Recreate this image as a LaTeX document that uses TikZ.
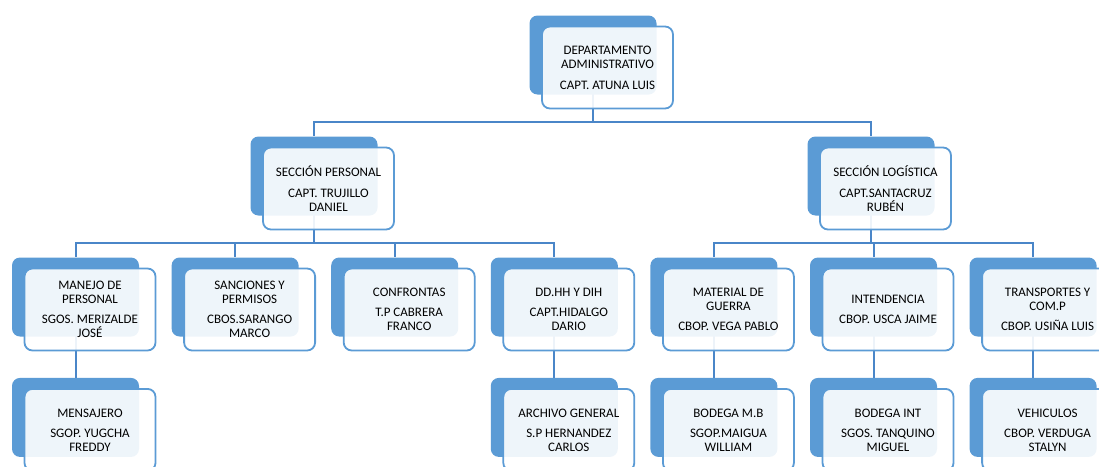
\documentclass[tikz,border=0pt]{standalone}
\usepackage{fontspec}
\setmainfont{Carlito}
\usepackage{tikz}
\usetikzlibrary{positioning, backgrounds}
\definecolor{accent}{HTML}{5B9BD5}
\definecolor{lineblue}{HTML}{4A86C8}
\tikzset{org-line/.style={line width=2pt, color=lineblue}}
\tikzset{back-box/.style={fill=accent, rounded corners=8pt, inner sep=0, minimum width=127pt, minimum height=79pt}}
\tikzset{front-box/.style={draw=accent, line width=1.8pt, fill=white, fill opacity=0.9, text opacity=1, rounded corners=8pt, inner sep=0, minimum width=131pt, minimum height=82pt, align=center, font=\fontsize{13}{14}\selectfont}}

\begin{document}
\begin{tikzpicture}[x=1pt, y=-1pt]
            \useasboundingbox (0,0) rectangle (1099,466);
            \clip (0,0) rectangle (1099,466);

            \node[back-box] (dep-b) at (593,55) {};
            \node[front-box] (dep) at ([xshift=14.5pt, yshift=-12.5pt]dep-b.center) {DEPARTAMENTO\\ADMINISTRATIVO\\[7pt]CAPT. ATUNA LUIS};

            \node[back-box] (personal-b) at (314,176) {};
            \node[front-box] (personal) at ([xshift=14.5pt, yshift=-12.5pt]personal-b.center) {SECCIÓN PERSONAL\\[7pt]CAPT. TRUJILLO\\DANIEL};
            \node[back-box] (logistica-b) at (871,176) {};
            \node[front-box] (logistica) at ([xshift=14.5pt, yshift=-12.5pt]logistica-b.center) {SECCIÓN LOGÍSTICA\\[7pt]CAPT.SANTACRUZ\\RUBÉN};

            \node[back-box] (manejo-b) at (75.5,297) {};
            \node[back-box, right=32.2pt of manejo-b] (sanciones-b) {};
            \node[back-box, right=32.2pt of sanciones-b] (confrontas-b) {};
            \node[back-box, right=32.2pt of confrontas-b] (ddhh-b) {};
            \node[back-box, right=32.2pt of ddhh-b] (material-b) {};
            \node[back-box, right=32.2pt of material-b] (intendencia-b) {};
            \node[back-box, right=32.2pt of intendencia-b] (transportes-b) {};

            \node[front-box] (manejo) at ([xshift=14.5pt, yshift=-12.5pt]manejo-b.center) {MANEJO DE\\PERSONAL\\[6pt]SGOS. MERIZALDE\\JOSÉ};
            \node[front-box] (sanciones) at ([xshift=14.5pt, yshift=-12.5pt]sanciones-b.center) {SANCIONES Y\\PERMISOS\\[6pt]CBOS.SARANGO\\MARCO};
            \node[front-box] (confrontas) at ([xshift=14.5pt, yshift=-12.5pt]confrontas-b.center) {CONFRONTAS\\[6pt]T.P CABRERA\\FRANCO};
            \node[front-box] (ddhh) at ([xshift=14.5pt, yshift=-12.5pt]ddhh-b.center) {DD.HH Y DIH\\[6pt]CAPT.HIDALGO\\DARIO};
            \node[front-box] (material) at ([xshift=14.5pt, yshift=-12.5pt]material-b.center) {MATERIAL DE\\GUERRA\\[6pt]CBOP. VEGA PABLO};
            \node[front-box] (intendencia) at ([xshift=14.5pt, yshift=-12.5pt]intendencia-b.center) {INTENDENCIA\\[6pt]CBOP. USCA JAIME};
            \node[front-box] (transportes) at ([xshift=14.5pt, yshift=-12.5pt]transportes-b.center) {TRANSPORTES Y\\COM.P\\[6pt]CBOP. USIÑA LUIS};

            \node[back-box, below=41pt of manejo-b] (mensajero-b) {};
            \node[back-box, below=41pt of ddhh-b] (archivo-b) {};
            \node[back-box, below=41pt of material-b] (bodegamb-b) {};
            \node[back-box, below=41pt of intendencia-b] (bodegaint-b) {};
            \node[back-box, below=41pt of transportes-b] (vehiculos-b) {};

            \node[front-box] (mensajero) at ([xshift=14.5pt, yshift=-12.5pt]mensajero-b.center) {MENSAJERO\\[6pt]SGOP. YUGCHA\\FREDDY};
            \node[front-box] (archivo) at ([xshift=14.5pt, yshift=-12.5pt]archivo-b.center) {ARCHIVO GENERAL\\[6pt]S.P HERNANDEZ\\CARLOS};
            \node[front-box] (bodegamb) at ([xshift=14.5pt, yshift=-12.5pt]bodegamb-b.center) {BODEGA M.B\\[6pt]SGOP.MAIGUA\\WILLIAM};
            \node[front-box] (bodegaint) at ([xshift=14.5pt, yshift=-12.5pt]bodegaint-b.center) {BODEGA INT\\[6pt]SGOS. TANQUINO\\MIGUEL};
            \node[front-box] (vehiculos) at ([xshift=14.5pt, yshift=-12.5pt]vehiculos-b.center) {VEHICULOS\\[6pt]CBOP. VERDUGA\\STALYN};

            \coordinate (bus-top) at (593,122);
            \coordinate (bus-per) at (314,243);
            \coordinate (bus-log) at (871,243);

            \begin{scope}[on background layer]
                \draw[org-line] (dep-b.center) -- (bus-top) -| (personal-b.north);
                \draw[org-line] (bus-top) -| (logistica-b.north);

                \draw[org-line] (personal-b.center) -- (bus-per) -| (manejo-b.north);
                \draw[org-line] (bus-per) -| (sanciones-b.north);
                \draw[org-line] (bus-per) -| (confrontas-b.north);
                \draw[org-line] (bus-per) -| (ddhh-b.north);

                \draw[org-line] (logistica-b.center) -- (bus-log) -| (material-b.north);
                \draw[org-line] (bus-log) -| (intendencia-b.north);
                \draw[org-line] (bus-log) -| (transportes-b.north);

                \draw[org-line] (manejo-b.center) -- (mensajero-b.north);
                \draw[org-line] (ddhh-b.center) -- (archivo-b.north);
                \draw[org-line] (material-b.center) -- (bodegamb-b.north);
                \draw[org-line] (intendencia-b.center) -- (bodegaint-b.north);
                \draw[org-line] (transportes-b.center) -- (vehiculos-b.north);
            \end{scope}

        \end{tikzpicture}
\end{document}
